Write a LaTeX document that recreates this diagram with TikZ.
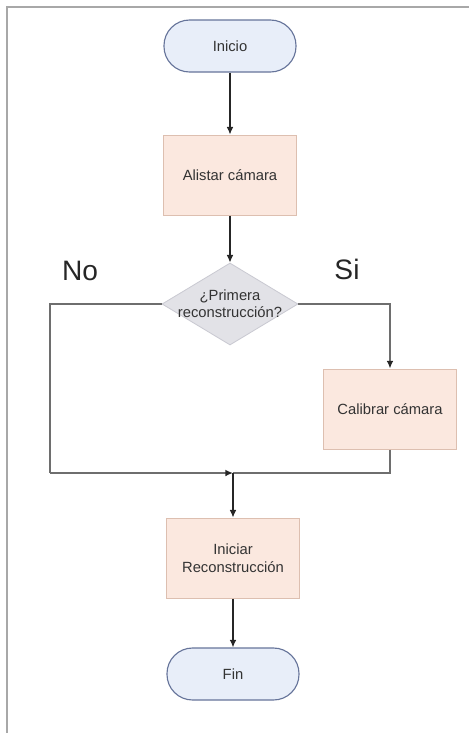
\documentclass[tikz,border=0pt]{standalone}
\usepackage{fontspec}
\setmainfont{Liberation Sans}
\usetikzlibrary{shapes.geometric,arrows.meta}

\definecolor{termfill}{HTML}{E8EEF9}
\definecolor{termline}{HTML}{66749A}
\definecolor{procfill}{HTML}{FBE8DF}
\definecolor{procline}{HTML}{DDBFB0}
\definecolor{decfill}{HTML}{E2E2E7}
\definecolor{decline}{HTML}{CACAD2}
\definecolor{branchgray}{HTML}{6E6E6E}
\definecolor{framegray}{HTML}{A8A8A8}

\begin{document}
\begin{tikzpicture}[x=0.025cm, y=-0.025cm,
		terminal/.style={draw=termline, fill=termfill, line width=0.8pt, rounded corners=0.64cm,
			minimum width=3.3cm, minimum height=1.3cm, text=black!80, font=\fontsize{10.5}{12}\selectfont},
		process/.style={draw=procline, fill=procfill, line width=0.7pt,
			minimum width=3.3cm, minimum height=2cm, align=center, text=black!80, font=\fontsize{10.5}{12.5}\selectfont},
		decision/.style={diamond, draw=decline, fill=decfill, line width=0.6pt, inner sep=-30pt,
			minimum width=3.4cm, minimum height=2.05cm, align=center, text=black!80, font=\fontsize{10.5}{12}\selectfont},
		flow/.style={-{Latex[length=1.9mm, width=1.7mm]}, line width=0.9pt, black!85},
		branch/.style={line width=1.3pt, branchgray},
		answer/.style={font=\fontsize{20}{24}\selectfont, text=black!85}]
		%%%%% START %%%%%
		
		\useasboundingbox (0, 0) rectangle (469, 733);
		\draw[line width=1.1pt, framegray] (7, 733) -- (7, 7) -- (469, 7);
		
		\node[terminal] (inicio) at (230, 46) {Inicio};
		\node[process] (alistar) at (230, 175) {Alistar cámara};
		\node[decision] (primera) at (230, 304) {¿Primera\\reconstrucción?};
		\node[process] (calibrar) at (390, 409) {Calibrar cámara};
		\node[process] (iniciar) at (233, 558) {Iniciar\\Reconstrucción};
		\node[terminal] (fin) at (233, 674) {Fin};
		
		\node[answer] (no) at (80, 271) {No};
		\node[answer] (si) at (347, 269) {Si};
		
		\coordinate (nocorner) at (50, 473);
		\coordinate (merge) at (233, 473);
		
		\draw[flow] (inicio) -- (alistar);
		\draw[flow] (alistar) -- (primera);
		
		\draw[branch] (primera.west) -| (nocorner);
		\draw[branch, -{Latex[length=1.9mm, width=1.7mm, black!85]}] (nocorner) -- (merge);
		\draw[branch, -{Latex[length=1.9mm, width=1.7mm, black!85]}] (primera.east) -| (calibrar.north);
		\draw[branch] (calibrar.south) |- (merge);
		
		\draw[flow] (merge) -- (iniciar);
		\draw[flow] (iniciar) -- (fin);
		
		%%%%% END %%%%%
	\end{tikzpicture}
\end{document}
